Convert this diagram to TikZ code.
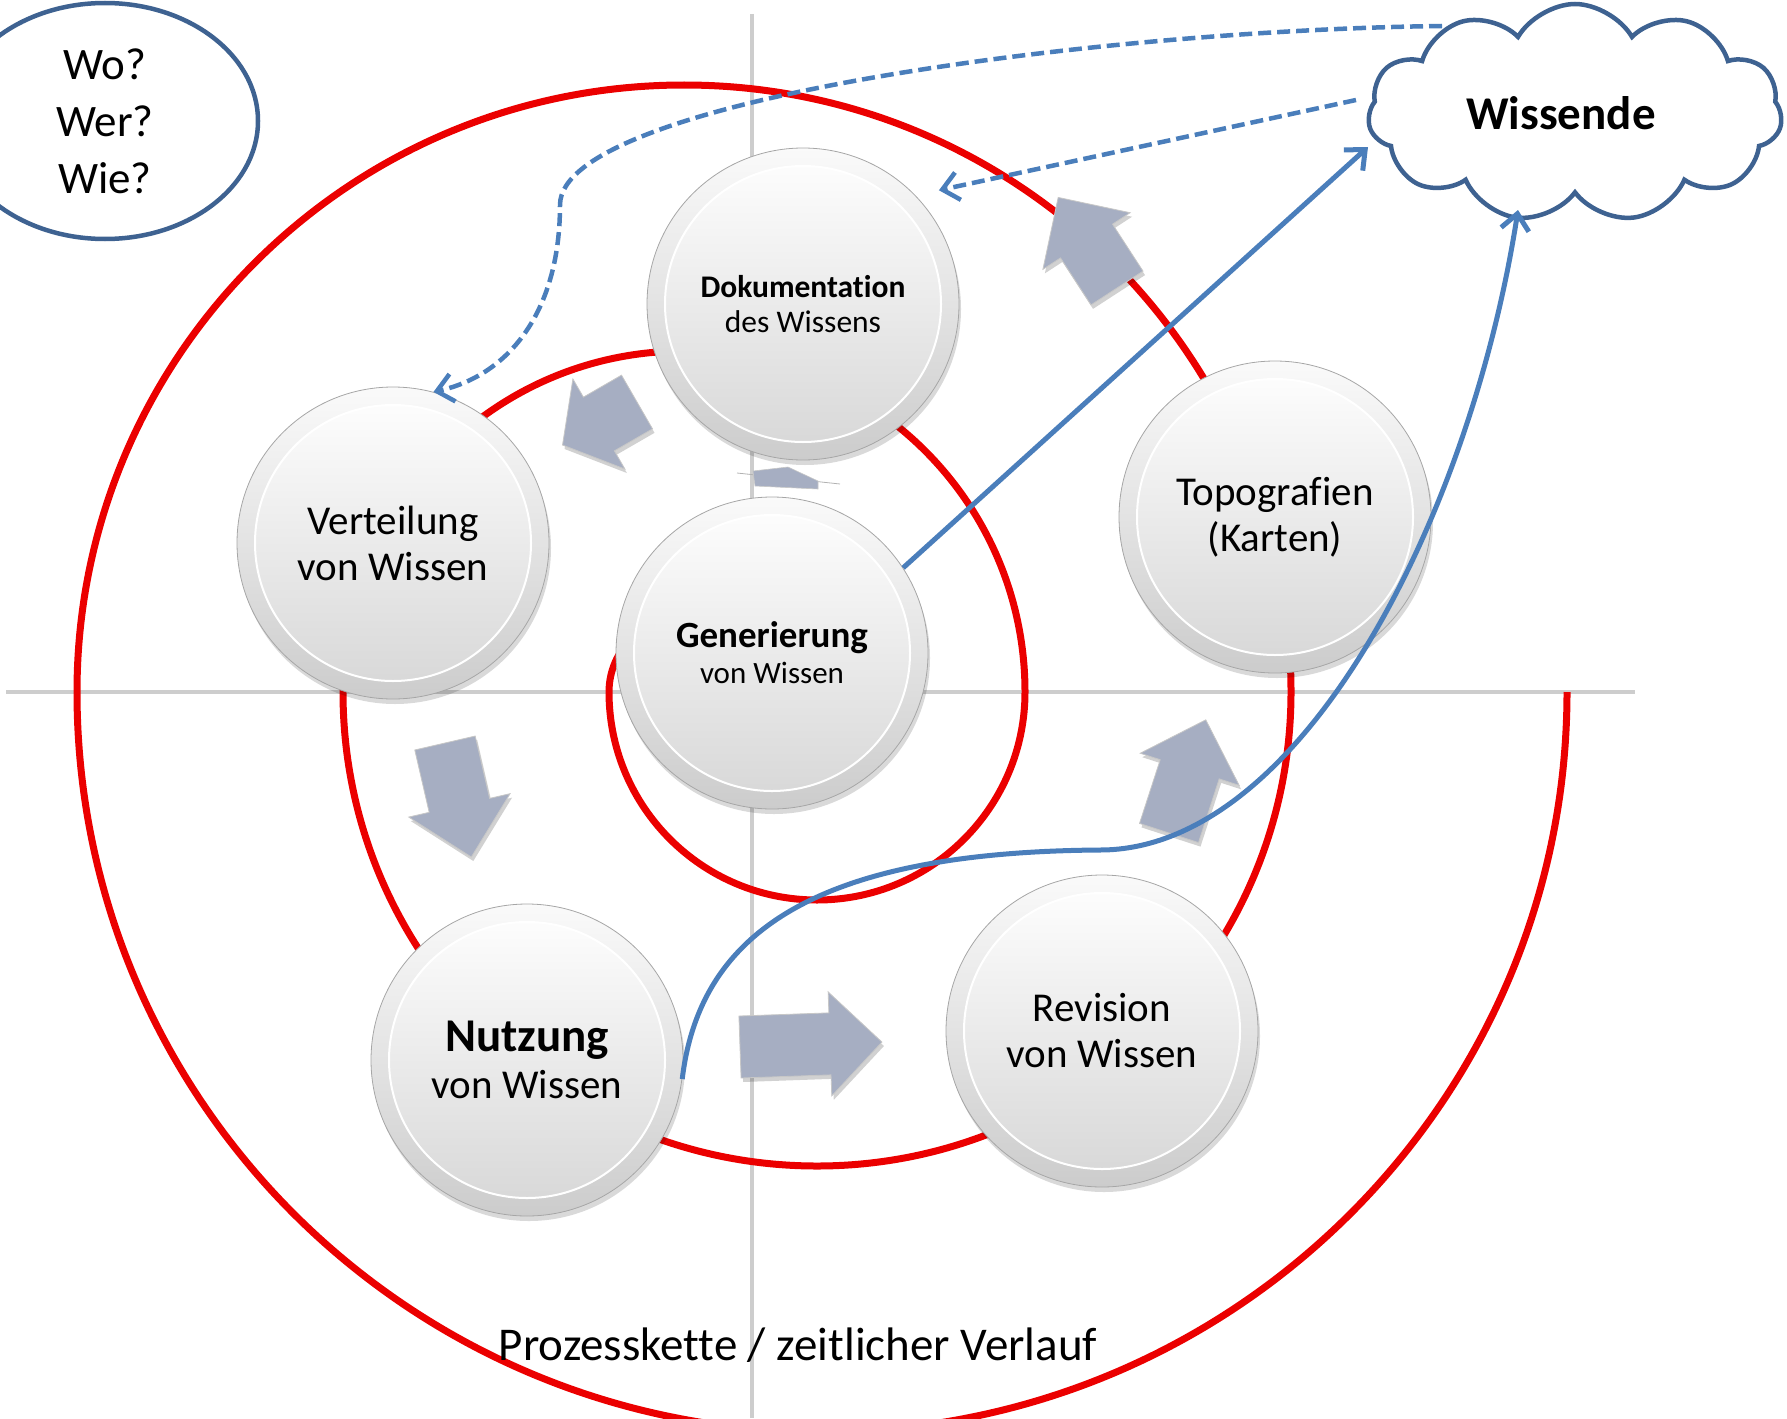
\documentclass[tikz,border=0pt]{standalone}
\usepackage{fontspec}
\setmainfont[Ligatures=NoCommon]{Carlito}
\usetikzlibrary{shapes.symbols,shapes.geometric,arrows.meta,shadows,calc}
\definecolor{spiralred}{RGB}{235,0,0}
\definecolor{axisgray}{RGB}{205,205,205}
\definecolor{lineblue}{RGB}{74,126,187}
\definecolor{darkblue}{RGB}{62,98,145}
\definecolor{blockfill}{RGB}{166,174,194}
\newcommand{\fsNorm}{\fontsize{41pt}{46pt}\selectfont}
\newcommand{\blockarrow}[5]{%
  \begin{scope}[shift={(#1,#2)}, rotate=#3]
    \path[blockarr] (0,-31) -- ({#4-#5},-31) -- ({#4-#5},-52) -- (#4,0)
      -- ({#4-#5},52) -- ({#4-#5},31) -- (0,31) -- cycle;
  \end{scope}}
\begin{document}
\begin{tikzpicture}[x=1pt,y=-1pt,
  btn/.style={circle, minimum size=312pt, inner sep=0pt, align=center, text=black,
    top color=black!2, bottom color=black!20, draw=black!35, line width=0.8pt,
    drop shadow={shadow xshift=2pt, shadow yshift=-5pt, opacity=0.15, fill=black},
    path picture={
      \shade[top color=white, bottom color=black!16]
        (path picture bounding box.center) circle (138pt);
      \draw[white, line width=2pt] (path picture bounding box.center) circle (138pt);}},
  blockarr/.style={fill=blockfill, draw=black!22, line width=0.8pt,
    drop shadow={shadow xshift=2pt, shadow yshift=-4pt, opacity=0.18, fill=black}},
  axisline/.style={draw=axisgray, line width=3.5pt},
  spiral/.style={draw=spiralred, line width=7pt},
  blueline/.style={draw=lineblue, line width=5pt},
  dashline/.style={draw=lineblue, line width=4.5pt, dash pattern=on 13pt off 6pt},
  tipV/.style={-{Straight Barb[length=16pt,width=28pt]}}
]
\useasboundingbox (0,0) rectangle (1787,1418);

% axes
\draw[axisline] (6,692) -- (1635,692);
\draw[axisline] (752,14) -- (752,1418);

% spiral
\draw[spiral] (759,692) arc[start angle=0,end angle=-180,radius=75]
  arc[start angle=180,end angle=0,radius=208]
  arc[start angle=0,end angle=-180,radius=341]
  arc[start angle=180,end angle=0,radius=474]
  arc[start angle=0,end angle=-180,radius=607]
  arc[start angle=180,end angle=0,x radius=745,y radius=740];

% buttons
\node[btn, font=\fontsize{31.5pt}{35pt}\selectfont] (doc) at (803,304)
  {\textbf{Dokumentation}\\des Wissens};
\node[btn, font=\fsNorm] (vert) at (393,543) {Verteilung\\von Wissen};
\node[btn, font=\fontsize{37pt}{37pt}\selectfont] (gen) at (772,653)
  {\textbf{Generierung}\\[-1pt]\fontsize{31pt}{36pt}\selectfont von Wissen};
\node[btn, font=\fsNorm] (topo) at (1275,517) {Topografien\\(Karten)};
\node[btn, font=\fontsize{47pt}{47pt}\selectfont] (nutz) at (527,1060)
  {\textbf{Nutzung}\\\fsNorm von Wissen};
\node[btn, font=\fsNorm] (rev) at (1102,1031) {Revision\\von Wissen};

% block arrows
\blockarrow{1117}{288}{123}{108}{52}
\blockarrow{637}{402}{210}{86}{42}
\blockarrow{445}{743}{-77}{117}{53}
\blockarrow{740}{1047}{2}{142}{52}
\blockarrow{1169}{833}{72}{119}{52}
\draw[black!30, line width=0.8pt] (737,473) -- (840,484);
\path[fill=blockfill, draw=black!22, line width=0.6pt]
  (753,471) -- (788,467) -- (818,481) -- (818,489) -- (755,486) -- cycle;

% question ellipse
\node[ellipse, draw=darkblue, line width=4.5pt, minimum width=306pt, minimum height=236pt,
  align=center, inner sep=0pt, font=\fontsize{45pt}{57pt}\selectfont] (quest) at (105,121)
  {Wo?\\Wer?\\Wie?};

% cloud
\node[cloud, draw=darkblue, fill=white, line width=4.5pt, cloud puffs=11, cloud puff arc=120,
  aspect=1.9, minimum width=414pt, minimum height=218pt, inner sep=0pt,
  font=\fontsize{47pt}{47pt}\selectfont\bfseries] (wiss) at (1575,113) {Wissende\hspace*{28pt}};

% connector ends at the cloud
\coordinate (cA) at (1368,147);
\coordinate (cB) at (1518,210);
\coordinate (cC) at (1356,100);
\coordinate (cD) at (1442,26);
\coordinate (m1) at (1100,850);
\coordinate (m2) at (560,205);

% blue connectors
\draw[blueline, tipV] (gen.33) -- (cA);
\draw[blueline, tipV] (nutz.-7) .. controls (700,930) and (820,852) .. (m1)
  .. controls (1300,850) and (1470,520) .. (cB);
\draw[dashline, tipV, shorten >=24pt] (cC) -- (doc.44);
\draw[dashline, tipV] (cD) .. controls (1100,30) and (560,100) .. (m2)
  .. controls (560,310) and (510,375) .. (vert.75);

% caption
\node[anchor=base, font=\fontsize{47pt}{47pt}\selectfont, inner sep=0pt] (cap) at (798,1360)
  {Prozesskette / zeitlicher Verlauf};
\end{tikzpicture}
\end{document}
